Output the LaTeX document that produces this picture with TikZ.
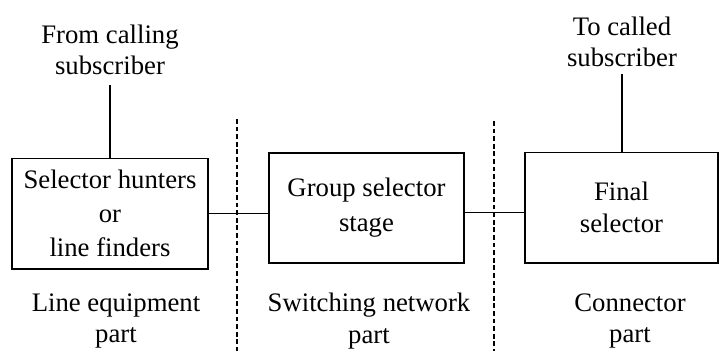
\documentclass[tikz,border=0pt]{standalone}
\usepackage{fontspec}
\setmainfont{Liberation Serif}
\usetikzlibrary{positioning,calc}
\begin{document}
\begin{tikzpicture}[
    x=0.025cm, y=-0.025cm,
    txt/.style={align=center, inner sep=0, font=\fontsize{19}{22.5}\selectfont},
    block/.style={draw, line width=1.4pt, txt, minimum width=4.9cm, minimum height=2.75cm},
    feed/.style={draw, line width=1pt},
    link/.style={draw, line width=0.7pt},
    divider/.style={draw, line width=1.1pt, dash pattern=on 0.12cm off 0.07cm}]
\useasboundingbox (0,0) rectangle (719,351);

\node[block] (hunter) at (110,213.5) {Selector hunters\\[1.5pt]or\\[1.5pt]line finders};
\node[block, minimum width=4.875cm] (group) at (366.5,208) {Group selector\\[2.5pt]stage};
\node[block, minimum width=4.825cm] (final) at (621.5,207.5) {Final\\selector};

\node[txt] (calling) at (110,50) {From calling\\subscriber};
\node[txt] (called) at (622,42) {To called\\subscriber};

\node[txt] (lineeq) at (116,321) {Line equipment\\part};
\node[txt] (switching) at (369,321) {Switching network\\part};
\node[txt] (connector) at (630,321) {Connector\\part};

\coordinate (div1top) at (237,119);
\coordinate (div1bot) at (237,351);
\coordinate (div2top) at (494,121);
\coordinate (div2bot) at (494,351);

\path[feed] (hunter.north) -- ++(0,-73);
\path[feed] (final.north -| called) -- ++(0,-78);
\path[link] (hunter.east) -- (hunter.east -| group.west);
\path[link] ([yshift=-0.1cm]group.east) -- ([yshift=-0.1cm]group.east -| final.west);
\path[divider] (div1top) -- (div1bot);
\path[divider] (div2top) -- (div2bot);

\end{tikzpicture}
\end{document}
